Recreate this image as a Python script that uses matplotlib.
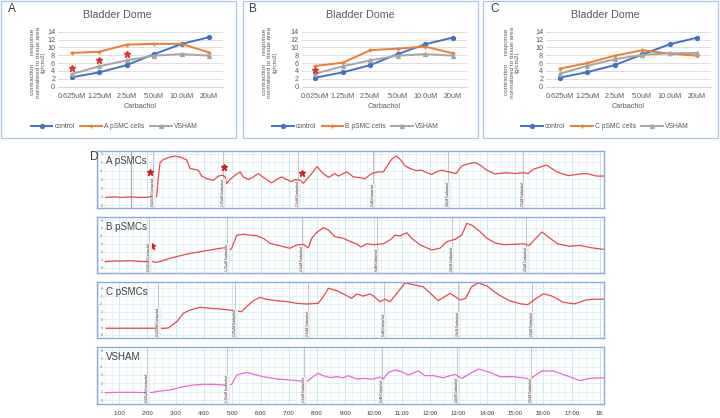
import matplotlib.pyplot as plt
from matplotlib.patches import Rectangle
from matplotlib.ticker import MultipleLocator

plt.rcParams['font.family'] = ['Liberation Sans', 'DejaVu Sans']

# ---- dose response data (g/cm2) ----
doses = ['0.625uM', '1.25uM', '2.5uM', '5.0uM', '10.0uM', '20uM']
control_a = [2.4, 3.65, 5.5, 8.3, 10.9, 12.6]
control_b = [2.3, 3.65, 5.5, 8.3, 10.8, 12.5]
control_c = [2.3, 3.7, 5.5, 8.2, 10.8, 12.5]
a_cells = [8.6, 8.9, 10.7, 10.9, 10.9, 8.7]
b_cells = [5.3, 6.1, 9.3, 9.7, 10.2, 8.5]
c_cells = [4.6, 6.0, 7.9, 9.3, 8.4, 7.9]
vsham_a = [3.2, 5.2, 6.7, 7.9, 8.3, 7.9]
vsham_b = [3.3, 5.2, 6.7, 7.9, 8.3, 7.9]
vsham_c = [3.3, 5.3, 7.0, 8.1, 8.5, 8.6]
a_star_x = [0, 1, 2]
a_star_y = [4.7, 6.9, 8.2]
b_star_x = [0]
b_star_y = [4.25]

# ---- traces (minutes, g) ----
a_t = [0.54, 0.8, 1.1, 1.4, 1.7, 1.95, 2.2, 2.33, 2.38, 2.45, 2.55, 2.75, 2.98, 3.2, 3.39,
       3.51, 3.65, 3.8, 3.92, 4.1, 4.33, 4.51, 4.66, 4.75, 4.8, 4.92, 5.1, 5.28, 5.39, 5.57,
       5.75, 5.92, 6.1, 6.39, 6.57, 6.75, 6.92, 7.1, 7.22, 7.4, 7.51, 7.81, 7.99, 8.22, 8.4,
       8.63, 8.75, 9.05, 9.28, 9.46, 9.69, 9.93, 10.16, 10.34, 10.64, 10.8, 10.93, 11.11,
       11.28, 11.52, 11.7, 11.87, 12.05, 12.22, 12.4, 12.64, 12.91, 13.11, 13.29, 13.58,
       13.76, 13.99, 14.29, 14.7, 14.99, 15.29, 15.46, 15.64, 16.11, 16.47, 16.88, 17.29,
       17.53, 17.88, 18.14]
a_v = [0.9, 0.95, 0.9, 0.95, 0.9, 0.9, 1.0, 1.0, 3.0, 5.0, 5.3, 5.6, 5.76, 5.6, 5.3,
       4.3, 4.2, 4.1, 3.4, 3.1, 2.9, 3.4, 3.5, 3.3, 2.5, 3.0, 3.5, 3.9, 3.3, 3.0,
       3.3, 3.7, 3.25, 2.6, 3.0, 3.3, 3.0, 2.75, 3.0, 2.9, 2.55, 3.7, 4.5, 3.7, 3.25,
       3.7, 3.4, 3.9, 3.3, 3.25, 3.1, 3.7, 3.9, 3.9, 5.4, 5.76, 5.4, 4.6,
       4.3, 4.04, 4.1, 3.8, 3.6, 3.9, 4.1, 3.9, 3.7, 4.6, 4.8, 5.0,
       4.7, 4.1, 3.65, 3.8, 3.7, 3.8, 3.7, 4.2, 4.7, 3.9, 3.45, 3.65,
       3.7, 3.4, 3.4]

b_t = [0.51, 0.8, 1.1, 1.4, 1.7, 1.92, 2.15, 2.33, 2.5, 2.8, 3.16, 3.51, 3.86, 4.22, 4.57,
       4.75, 4.86, 4.98, 5.16, 5.4, 5.63, 5.86, 6.1, 6.34, 6.57, 6.8, 7.04, 7.28, 7.51, 7.69,
       7.81, 7.99, 8.22, 8.4, 8.63, 8.93, 9.16, 9.4, 9.55, 9.75, 9.99, 10.34, 10.58, 10.76,
       10.93, 11.17, 11.34, 11.64, 12.05, 12.34, 12.58, 12.88, 13.11, 13.29, 13.46, 13.76,
       14.0, 14.3, 14.6, 15.0, 15.3, 15.5, 15.7, 15.95, 16.2, 16.5, 16.9, 17.3, 17.7, 18.14]
b_v = [0.76, 0.84, 0.84, 0.88, 0.8, 0.76, 0.76, 0.67, 0.84, 1.18, 1.5, 1.8, 2.0, 2.23, 2.44,
       2.52, 2.0, 2.44, 4.1, 4.2, 4.1, 4.03, 3.69, 3.06, 2.86, 2.65, 2.44, 2.86, 2.94, 2.5,
       3.69, 4.45, 5.03, 4.74, 3.9, 3.7, 3.3, 3.0, 2.6, 3.0, 2.9, 3.0, 3.5, 4.1,
       4.0, 4.4, 3.7, 2.86, 2.23, 2.44, 3.27, 3.57, 4.1, 5.58, 5.37, 4.53,
       3.7, 3.1, 2.9, 2.95, 3.0, 2.8, 3.6, 4.5, 3.8, 3.0, 2.7, 2.8, 2.5, 2.3]

c_t = [0.54, 1.0, 1.5, 2.0, 2.39, 2.6, 2.74, 3.04, 3.27, 3.51, 3.86, 4.22, 4.69, 4.9, 5.04,
       5.33, 5.51, 5.75, 5.98, 6.2, 6.57, 6.9, 7.28, 7.63, 8.04, 8.22, 8.4, 8.69, 8.93, 9.22,
       9.4, 9.63, 9.87, 10.0, 10.22, 10.4, 10.58, 10.87, 11.11, 11.3, 11.75, 12.28, 12.7,
       13.05, 13.25, 13.46, 13.7, 14.0, 14.4, 14.8, 15.2, 15.45, 15.7, 16.0, 16.3, 16.7,
       17.1, 17.5, 17.8, 18.14]
c_v = [0.86, 0.86, 0.86, 0.86, 0.86, 0.86, 0.9, 1.71, 2.78, 3.21, 3.56, 3.43, 3.3, 3.2, 3.13,
       3.0, 3.64, 4.41, 4.84, 4.6, 4.41, 4.3, 4.07, 3.98, 4.07, 4.93, 6.0, 5.69, 5.27, 4.71,
       5.27, 5.0, 5.27, 5.0, 4.28, 4.6, 4.28, 5.6, 6.7, 6.55, 6.2, 4.41, 5.36,
       4.5, 4.7, 6.2, 6.7, 6.3, 5.2, 4.4, 4.0, 3.9, 4.6, 5.3, 5.0, 4.2,
       4.0, 4.5, 4.6, 4.6]

v_t = [0.51, 1.0, 1.5, 1.92, 2.2, 2.45, 2.8, 3.27, 3.63, 3.98, 4.4, 4.69, 4.86, 4.98, 5.16,
       5.51, 5.75, 6.1, 6.57, 7.04, 7.46, 7.63, 7.81, 8.04, 8.22, 8.46, 8.69, 8.93, 9.1, 9.4,
       9.7, 9.93, 10.22, 10.34, 10.52, 10.75, 10.99, 11.22, 11.58, 11.81, 12.1, 12.46, 12.87,
       13.11, 13.7, 14.1, 14.46, 14.93, 15.23, 15.52, 15.94, 16.35, 16.82, 17.29, 17.64, 18.14]
v_v = [0.88, 0.92, 0.92, 0.88, 0.92, 1.08, 1.2, 1.6, 1.8, 1.88, 1.88, 1.8, 1.72, 1.88, 3.0,
       3.32, 3.08, 2.8, 2.52, 2.4, 2.28, 2.2, 2.68, 3.2, 2.92, 2.68, 2.8, 2.68, 2.92, 2.52,
       2.6, 2.48, 2.76, 2.52, 3.3, 3.6, 3.4, 3.0, 3.48, 2.92, 2.92, 2.68, 3.08,
       2.6, 3.72, 3.32, 2.8, 2.8, 2.68, 2.52, 3.48, 3.48, 2.92, 2.32, 2.6, 2.68]

event_names = ['0.625uM Carbachol', '1.25uM Carbachol', '2.5uM Carbachol',
               '5uM Carbachol', '10uM Carbachol', '20uM Carbachol']
a_events = [2.21, 4.69, 7.34, 9.99, 12.64, 15.27]
b_events = [2.07, 4.83, 7.48, 10.1, 12.75, 15.4]
c_events = [2.39, 5.10, 7.69, 10.38, 12.99, 15.6]
v_events = [2.00, 4.83, 7.54, 10.28, 12.93, 15.55]
a_trace_star_t = [2.1, 4.71, 7.47]
a_trace_star_v = [3.92, 4.5, 3.8]
b_trace_star_t = [2.15]
b_trace_star_v = [2.77]

time_ticks = list(range(1, 19))
time_labels = ['1:00', '2:00', '3:00', '4:00', '5:00', '6:00', '7:00', '8:00', '9:00',
               '10:00', '11:00', '12:00', '13:00', '14:00', '15:00', '16:00', '17:00', '18:']

W, H = 720, 418


def rect(x0, y0, x1, y1):
    return [x0 / W, 1 - y1 / H, (x1 - x0) / W, (y1 - y0) / H]


fig = plt.figure(figsize=(7.2, 4.18), dpi=100)


def frame(x0, y0, x1, y1, color, lw):
    fig.add_artist(Rectangle((x0 / W, 1 - y1 / H), (x1 - x0) / W, (y1 - y0) / H,
                             transform=fig.transFigure, fill=False, edgecolor=color, lw=lw))


grey = '#595959'
top = [
    ('A', 1, 57, 30, 'A pSMC cells', control_a, a_cells, vsham_a, a_star_x, a_star_y, 113),
    ('B', 242.5, 59, 20, 'B pSMC cells', control_b, b_cells, vsham_b, b_star_x, b_star_y, 113),
    ('C', 483, 63, 22, 'C pSMC cells', control_c, c_cells, vsham_c, [], [], 122),
]
for letter, x0, pl, yl, cname, ctl, cells, vsh, sx, sy, legx in top:
    frame(x0, 1, x0 + 235, 137.5, '#a9c6e8', 0.9)
    ax = fig.add_axes(rect(x0 + pl, 31.7, x0 + pl + 165, 86.7))
    xs = range(len(doses))
    l1, = ax.plot(xs, ctl, color='#4472c4', lw=1.4, marker='o', ms=2.8, label='control')
    l2, = ax.plot(xs, cells, color='#ed7d31', lw=1.4, marker='+', ms=3.5, mew=1, label=cname)
    l3, = ax.plot(xs, vsh, color='#a5a5a5', lw=1.4, marker='^', ms=2.8, label='VSHAM')
    ax.plot(sx, sy, ls='none', marker='*', color='#e03030', ms=4.5)
    ax.set_xlim(-0.5, 5.5)
    ax.set_ylim(0, 14)
    ax.set_yticks(range(0, 15, 2))
    ax.set_xticks(list(xs))
    ax.set_xticklabels(doses)
    ax.grid(axis='y', color='#d9d9d9', lw=0.6)
    ax.set_axisbelow(True)
    for s in ['top', 'right', 'left']:
        ax.spines[s].set_visible(False)
    ax.spines['bottom'].set_color('#d9d9d9')
    ax.tick_params(length=0, labelsize=5.2, colors=grey)
    ax.tick_params(axis='x', pad=4.2)
    ax.tick_params(axis='y', pad=2)
    fig.text((x0 + 7) / W, 1 - 9 / H, letter, fontsize=8.5, color='#404040', va='center')
    fig.text((x0 + pl + 59) / W, 1 - 15.5 / H, 'Bladder Dome', fontsize=7.7, color=grey,
             ha='center', va='center')
    fig.text((x0 + pl + 82.5) / W, 1 - 107 / H, 'Carbachol', fontsize=5.2, color=grey,
             ha='center', va='center')
    fig.text((x0 + yl + 7) / W, 1 - 62 / H,
             'contraction     response\nnormalized to tissue area\n(g/cm2)',
             fontsize=4.6, color=grey, rotation=90, ha='center', va='center',
             multialignment='center', linespacing=1.05)
    fig.legend([l1, l2, l3], ['control', cname, 'VSHAM'], loc='center',
               bbox_to_anchor=((x0 + legx) / W, 1 - 127 / H), ncol=3, frameon=False,
               fontsize=4.9, handlelength=3.2, columnspacing=0.8, handletextpad=0.3,
               labelcolor=grey)

# ---- panel D traces ----
fig.text(90 / W, 1 - 157 / H, 'D', fontsize=8.5, color='#404040', va='center')
traces = [
    ('A pSMCs', a_t, a_v, a_events, '#e84848', 151, 208, (-0.35, 6.35), a_trace_star_t, a_trace_star_v),
    ('B pSMCs', b_t, b_v, b_events, '#e84848', 217, 273, (-0.67, 6.38), b_trace_star_t, b_trace_star_v),
    ('C pSMCs', c_t, c_v, c_events, '#e84848', 282, 338, (-0.39, 6.81), [], []),
    ('VSHAM', v_t, v_v, v_events, '#e868d4', 347, 404, (-0.48, 6.36), [], []),
]
for i, (name, tt, vv, ev, col, y0, y1, yl, st, sv) in enumerate(traces):
    ax = fig.add_axes(rect(97, y0, 604, y1))
    ax.set_xlim(0.22, 18.14)
    ax.set_ylim(*yl)
    ax.xaxis.set_minor_locator(MultipleLocator(0.25))
    ax.set_xticks(time_ticks)
    ax.set_yticks(range(0, 7))
    ax.grid(which='minor', axis='x', color='#d9f3f8', lw=0.5)
    ax.grid(which='major', axis='x', color='#bde9f1', lw=0.6)
    ax.grid(which='major', axis='y', color='#d6ecf1', lw=0.5)
    ax.set_axisbelow(True)
    if i == 0:
        ax.axvline(1.41, color='#a8a8a8', lw=0.8)
    for t, label in zip(ev, event_names):
        ax.axvline(t, color='#c4c4c4', lw=0.7)
        ax.text(t, yl[0] + 0.2, label, rotation=90, fontsize=2.3, color='#333333',
                ha='center', va='bottom',
                bbox=dict(facecolor='#eeeeee', edgecolor='none', pad=0.4))
    ax.plot(tt, vv, color=col, lw=0.9)
    ax.plot(st, sv, ls='none', marker='*', color='#d02020', ms=5)
    ax.text(0.018, 0.82, name, transform=ax.transAxes, fontsize=7, color='#404040',
            va='center', ha='left')
    for s in ax.spines.values():
        s.set_color('#8eaadb')
        s.set_linewidth(1.0)
    ax.tick_params(axis='y', length=0, direction='in', pad=-4, labelsize=2.8,
                   colors='#777777')
    for lab in ax.get_yticklabels():
        lab.set_horizontalalignment('right')
    if i == 3:
        ax.set_xticklabels(time_labels)
        ax.tick_params(axis='x', which='both', length=0, labelsize=4.3, colors='#333333',
                       pad=5)
    else:
        ax.tick_params(axis='x', which='both', length=0, labelbottom=False)

fig.savefig('out.png', dpi=100)
